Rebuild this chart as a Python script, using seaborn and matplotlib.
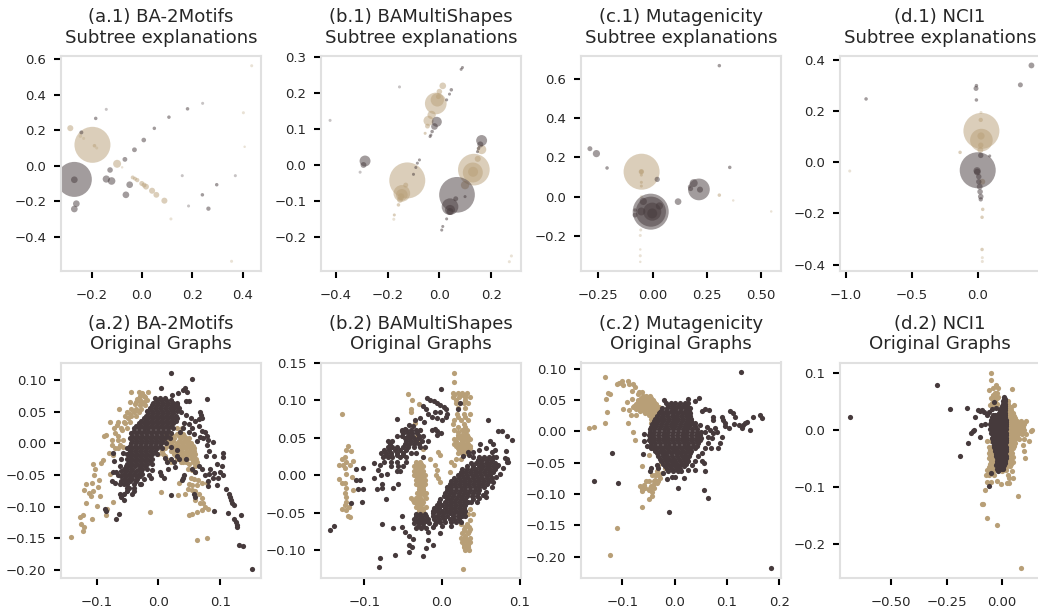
import numpy as np
import matplotlib
matplotlib.use("Agg")
import matplotlib.pyplot as plt
import seaborn as sns

# ====================== 1. top row: x, y, bubble size ======================
tan_a1 = [(-.197,.118,672),(-.285,.212,19),(-.099,.011,33),(.089,-.197,19),(.057,-.164,11),(.04,-.141,19),
          (.016,-.118,11),(-.001,-.1,8),(-.019,-.081,6),(-.037,-.066,5),(-.028,-.073,5),(.008,-.109,8),(-.189,.113,4)]
tan_a1_faint = [(-.18,.1,3),(-.245,.167,4),(-.232,.154,3),(.115,-.3,3),(.436,.564,3),(.403,.299,3),(.408,.107,2),
                (.356,-.539,3),(-.079,-.009,2)]
dark_a1 = [(-.269,-.077,635),(-.269,-.079,23),(-.261,-.214,23),(-.269,-.244,23),(-.142,-.075,27),(-.121,-.086,30),
           (-.127,-.024,16),(-.049,-.107,23),(-.064,-.164,23),(-.068,.036,12),(-.03,.09,12),(.007,.145,7),(.049,.211,4),
           (.107,.274,4),(.181,.321,4),(-.184,.267,4),(-.241,.188,5),(.297,-.107,4),(.24,-.164,4),(.264,-.242,6)]
dark_a1_faint = [(.241,.352,3),(-.142,.318,3),(.16,-.056,3),(.371,-.056,3),(.185,-.227,3)]

tan_b1 = [(-.124,-.043,672),(-.145,-.079,144),(-.145,-.083,70),(-.148,-.088,23),(-.152,-.097,11),(-.158,-.111,4),
          (-.13,-.056,8),(-.174,-.139,3),(.133,-.013,520),(.129,-.021,207),(.13,-.019,52),(.148,.017,19),(.099,-.056,36),
          (.163,.043,45),(-.014,.171,244),(-.008,.181,92),(.013,.22,23),(0,.204,16),(-.004,.19,12),(-.03,.139,36),
          (-.042,.123,52),(-.046,.108,12),(-.055,.088,3)]
tan_b1_faint = [(-.176,-.151,3),(.27,-.269,3),(.278,-.253,3)]
dark_b1 = [(.068,-.083,660),(.041,-.116,144),(.041,-.125,52),(.041,-.129,23),(.063,-.094,8),(.028,-.15,3),(.013,-.171,3),
           (.009,-.181,3),(.099,-.088,3),(.163,.068,62),(.158,.057,19),(.151,.046,4),(.147,.037,3),(-.287,.011,62),
           (-.293,0,11),(-.01,.12,52),(-.019,.107,23),(-.028,.093,4),(-.033,.083,3),(-.036,.079,3),(-.077,.014,3),
           (-.085,.005,3),(-.091,-.007,3),(-.1,-.026,3),(.046,.209,4),(.039,.197,3),(.028,.181,3),(.089,.271,3),(.084,.266,3)]
dark_b1_faint = [(-.306,-.02,3),(-.154,.217,3),(-.422,.124,3)]

tan_c1 = [(-.051,.127,672),(-.052,.127,15),(-.052,.127,6),(-.052,.073,3),(-.052,.054,3),(-.052,.11,3),(.307,.008,4)]
tan_c1_faint = [(-.052,0,3),(-.055,-.169,3),(-.057,-.197,3),(-.057,-.268,2),(-.057,-.3,3),(-.057,-.331,2),(.371,-.019,2),
                (.546,-.075,2)]
dark_c1 = [(-.009,-.076,672),(-.008,-.076,470),(-.043,-.024,27),(-.052,-.075,33),(-.002,-.076,170),(-.002,-.085,52),
           (.031,-.047,27),(-.081,-.093,8),(-.081,-.068,4),(.117,-.025,23),(.213,.037,245),(.189,.069,33),(.218,.036,19),
           (.175,.041,8),(.021,.088,9),(-.259,.219,27),(-.289,.244,8),(-.21,.146,4),(.307,.666,4),(.355,.149,4)]
dark_c1_faint = [(.167,.054,4)]

tan_d1 = [(.028,.123,672),(.028,.087,265),(.025,.103,27),(.023,.067,15),(.02,.048,11),(.023,.166,6),(-.134,.039,4),
          (.035,-.076,11),(.038,-.184,4),(.033,-.215,4),(.033,-.341,4)]
tan_d1_faint = [(.025,.195,3),(.035,-.373,3),(.035,-.388,3),(-.972,-.034,3)]
dark_d1 = [(0,-.031,672),(-.005,-.033,27),(-.003,-.038,23),(.008,-.056,15),(.008,-.076,15),(.015,-.095,11),(.018,-.115,10),
           (.023,-.134,10),(.023,-.145,6),(.023,.027,15),(.091,.025,3),(-.013,.289,8),(-.01,.3,4),(-.01,.244,4),(.324,.303,8),
           (.408,.379,11),(-.848,.248,4)]
dark_d1_faint = []

# ====================== 2. bottom row: loose points (x, y) + dense rows (y, [x]) ======================
tan_a2 = [(-.142,-.148),(-.127,-.116),(-.122,-.114),(-.125,-.128),(-.121,-.132),(-.122,-.138),(-.108,-.119),(-.117,-.094),
          (-.099,-.099),(-.085,-.113),(-.083,-.104),(-.073,-.093),(-.12,-.074),(-.117,-.065),(-.108,-.063),(-.113,-.079),
          (-.109,-.083),(-.105,-.076),(-.098,-.069),(-.096,-.058),(-.104,-.05),(-.106,-.033),(-.102,-.04),(-.093,-.031),
          (-.089,-.026),(-.094,-.083),(-.078,-.049),(-.08,-.015),(-.074,-.018),(-.075,-.003),(-.07,-.008),(-.065,-.007),
          (-.088,.011),(-.084,.014),(-.078,.034),(-.063,.054),(-.067,.029),(-.07,.016),(-.065,.012),(-.059,.021),(-.054,.032),
          (-.051,.05),(-.046,.047),(-.049,.04),(-.04,.05),(-.046,.065),(-.044,.082),(-.032,.081),(-.027,.079),(-.016,.081),
          (-.035,.071),(-.03,.069),(-.022,.074),(-.038,.063),(-.03,.061),(-.019,.069),(-.022,.061),(-.032,.05),(-.062,-.003),
          (-.057,-.005),(.044,-.03),(.05,-.032),(.056,-.03),(.06,-.035),(.048,-.04),(.055,-.042),(.06,-.045),(.052,-.055),
          (.058,-.057),(.064,-.058),(.05,-.064),(.055,-.066),(.062,-.066),(.07,-.062),(.078,-.062),(.048,-.072),(.054,-.074),
          (.06,-.076),(.066,-.08),(.07,-.086),(.072,-.095),(.076,-.1),(.07,-.105),(.068,-.094),(.08,-.104),(.06,-.09),
          (.062,-.109),(.055,-.112),(.05,-.114),(.032,-.082),(.043,-.08),(.034,-.062),(.005,-.077),(-.014,-.109),(.062,-.153),
          (.078,-.15),(.02,-.03)]
tan_a2_rows = [(.015,[.012,.02,.03,.04]),(.008,[.008,.018,.026,.036,.044,.05]),(0,[.005,.012,.02,.03,.038,.046,.052]),
               (-.008,[.01,.022,.03,.038,.045,.052,.058]),(-.016,[0,.008,.025,.032,.04,.048,.055,.06]),
               (-.024,[.012,.03,.038,.046,.054,.061]),(.024,[.03,.038]),
               (.012,[.016,.024,.034,.042]),(.004,[.01,.016,.024,.034,.042,.048]),(-.004,[.014,.026,.034,.042,.05,.056]),
               (-.012,[.006,.02,.028,.036,.044,.05,.057]),(-.02,[.01,.028,.036,.044,.052,.058]),(-.03,[.036,.04,.062]),
               (.075,[-.03,-.024]),(.066,[-.036,-.028,-.024]),(.055,[-.044,-.036,-.028]),(.044,[-.054,-.044,-.036]),
               (.034,[-.066,-.056,-.046]),(.025,[-.072,-.06,-.05]),(.006,[-.075,-.066,-.058])]
dark_a2 = [(.021,.111),(.055,.102),(.005,.088),(.04,.085),(.043,.088),(.047,.082),(.032,.08),(.022,.077),(.079,.07),(.045,.067),
           (.05,.067),(.03,.06),(.037,.05),(.045,.045),(.052,.04),(.066,.039),(.068,.05),(.069,.045),(.07,.04),(.06,.035),(.05,.03),
           (.055,.025),(.065,.028),(.07,.02),(.075,.018),(.058,.015),(.068,.01),(.072,.008),(.078,.012),(.042,.033),(.04,.025),
           (.05,.018),(.035,.018),(.062,.003),(.08,.005),(.078,-.003),(.088,.002),(.082,-.012),(.077,-.02),(.09,-.02),(.095,-.033),
           (.105,-.015),(.105,-.022),(.103,-.035),(.083,-.04),(.07,-.04),(.065,-.035),(.06,-.045),(.055,-.04),(.075,-.05),(.082,-.048),
           (.09,-.047),(.1,-.045),(.105,-.05),(.096,-.055),(.08,-.06),(.08,-.068),(.095,-.066),(.088,-.055),(.11,-.072),(.115,-.08),
           (.116,-.085),(.118,-.09),(.119,-.095),(.122,-.097),(.113,-.11),(.123,-.119),(.126,-.124),(.127,-.129),(.127,-.133),
           (.134,-.113),(.13,-.16),(.137,-.162),(.152,-.198),(.09,-.107),(.04,-.055),(.042,-.05),(.038,-.058),(.02,-.082),(.058,-.08),
           (.06,-.085),(-.01,-.042),(-.015,-.05),(-.012,-.055),(.002,-.045),(.005,-.05),(.009,-.055),(.015,-.04),(.014,-.03),
           (.025,-.03),(.027,-.038),(.03,-.02),(.02,-.025),(.01,-.023),(.034,-.025),(-.068,-.12),(-.063,-.112),(-.087,-.104),
           (-.085,-.107),(-.073,-.015),(-.072,-.028),(-.073,-.045),(-.075,-.06),(-.068,-.045),(-.07,-.062),(-.065,-.05),(-.062,-.035),
           (-.06,-.025),(-.058,-.015),(-.062,-.065),(-.062,-.08),(-.06,-.085),(-.055,-.09),(-.055,-.08),(-.05,-.075),(-.048,-.07),
           (-.042,-.08),(-.04,-.076),(-.028,-.065),(.02,-.005),(.03,-.01),(.045,-.025)]
dark_a2_rows = [(.072,[-.005,.003,.01]),(.064,[-.008,0,.008,.016,.024,.03]),(.056,[-.014,-.006,.002,.01,.018,.026,.034]),
                (.048,[-.016,-.008,0,.008,.016,.024]),(.04,[-.024,-.016,-.008,0,.008,.016,.024,.03]),
                (.032,[-.032,-.024,-.016,-.008,0,.008,.016,.024]),(.024,[-.04,-.032,-.024,-.016,-.008,0,.008,.016,.024]),
                (.016,[-.044,-.036,-.028,-.02,-.012,-.004,.004,.012,.02]),(.008,[-.046,-.038,-.03,-.022,-.014,-.006,.002,.01,.018]),
                (0,[-.044,-.036,-.028,-.02,-.012,-.004,.004,.012]),(-.008,[-.05,-.042,-.034,-.026,-.018,-.01,-.002,.006]),
                (-.016,[-.05,-.042,-.034,-.026,-.018,-.01,-.002]),(-.024,[-.05,-.042,-.034,-.026,-.018,-.01]),
                (-.032,[-.05,-.042,-.034,-.026,-.018,-.01]),(-.04,[-.056,-.05,-.042,-.032,-.026,-.018]),
                (-.048,[-.056,-.048,-.04,-.032,-.026]),(-.056,[-.056,-.048,-.042,-.034,-.024]),(-.064,[-.056,-.05,-.04,-.03]),
                (.068,[-.004,.004,.012,.02]),(.06,[-.01,-.002,.006,.014,.022,.03]),(.052,[-.018,-.01,-.002,.006,.014,.022,.03]),
                (.044,[-.02,-.012,-.004,.004,.012,.02,.028]),(.036,[-.028,-.02,-.012,-.004,.004,.012,.02,.028]),
                (.028,[-.036,-.028,-.02,-.012,-.004,.004,.012,.02]),(.02,[-.04,-.032,-.024,-.016,-.008,0,.008,.016]),
                (.012,[-.042,-.034,-.026,-.018,-.01,-.002,.006,.014]),(.004,[-.042,-.034,-.026,-.018,-.01,-.002,.006]),
                (-.004,[-.046,-.038,-.03,-.022,-.014,-.006,.002]),(-.012,[-.046,-.038,-.03,-.022,-.014,-.006]),
                (-.02,[-.046,-.038,-.03,-.022,-.014]),(-.028,[-.046,-.038,-.03,-.022,-.014]),(-.036,[-.052,-.046,-.038,-.03,-.022]),
                (-.044,[-.06,-.052,-.044,-.036,-.028]),(-.052,[-.06,-.052,-.044,-.036,-.03]),(-.06,[-.06,-.052,-.046,-.036]),(-.07,[-.05,-.04])]

tan_b2 = [(-.128,.082),(-.121,.039),(-.123,.033),(-.117,.032),(-.125,.024),(-.128,.021),(-.132,.014),(-.127,.014),(-.123,.018),
          (-.115,.019),(-.118,.013),(-.125,.009),(-.123,.002),(-.116,-.002),(-.132,-.005),(-.128,-.011),(-.125,-.011),(-.123,-.017),
          (-.115,-.02),(-.125,-.024),(-.123,-.029),(-.123,-.036),(-.125,-.04),(-.128,-.045),(-.124,-.047),(-.12,-.042),(-.121,-.054),
          (-.118,-.056),(-.044,.108),(-.039,.1),(-.03,.095),(-.04,.088),(-.04,.084),(-.035,.069),(-.028,.06),(-.015,.021),(-.005,.031),
          (-.003,.027),(-.009,.013),(-.007,.007),(-.008,0),(-.005,-.004),(-.003,-.009),(.015,.137),(.016,.124),(.027,-.125),
          (.012,.018),(.015,.013),(.01,.004),(-.032,.052),(-.03,.044),(-.024,.035)]
tan_b2_rows = [(.11,[.014,.02,.026,.032]),(.104,[.014,.022,.03,.036]),(.097,[.018,.028,.034]),(.09,[.02,.03]),(.082,[.019,.028,.036]),
               (.074,[.016,.024,.034]),(.068,[.014,.028]),(.06,[.016,.026,.032]),(.054,[.02,.026,.032]),(.048,[.016,.024,.03,.036]),
               (.042,[.016,.022,.028,.034]),(.036,[.02,.026,.032,.036]),(.03,[.02,.026,.03]),(.022,[.018,.024]),
               (.018,[-.034,-.028]),(.012,[-.036,-.03,-.024]),(.006,[-.036,-.03,-.024]),(0,[-.036,-.03,-.022]),(-.006,[-.034,-.028,-.022]),
               (-.012,[-.034,-.028,-.022]),(-.018,[-.03,-.024]),(-.024,[-.032,-.026,-.02]),(-.03,[-.04,-.034,-.028,-.02]),
               (-.036,[-.036,-.03,-.024]),(-.042,[-.034,-.028,-.02]),(-.048,[-.03,-.024]),
               (-.045,[.028,.036]),(-.052,[.034,.04]),(-.06,[.036]),(-.066,[.024,.032]),(-.072,[.028,.036]),(-.078,[.026,.034]),
               (-.084,[.024,.03,.036]),(-.09,[.026,.032,.036]),(-.096,[.028,.034]),(-.1,[.03,.035]),
               (.015,[-.033,-.027]),(.009,[-.033,-.027]),(.003,[-.033,-.027]),(-.003,[-.032,-.026]),(-.009,[-.031,-.025]),(-.015,[-.03,-.024]),
               (-.021,[-.03,-.024]),(-.027,[-.03,-.023]),(-.033,[-.037,-.032,-.026]),(-.039,[-.032,-.026]),(-.045,[-.03,-.024]),
               (.107,[.016,.024,.03]),(.1,[.018,.03]),(.078,[.02,.03]),(.064,[.02,.03]),(.057,[.02,.03]),(.051,[.02,.028,.034]),
               (.045,[.018,.026,.032]),(.039,[.018,.024,.03,.036]),(.033,[.022,.028,.034]),(-.075,[.028,.035]),(-.087,[.028,.033]),
               (-.093,[.028,.034]),(-.07,[.03,.035]),(-.082,[.03])]
dark_b2 = [(-.11,.008),(-.101,.009),(-.111,-.007),(-.106,-.007),(-.108,-.019),(-.101,-.019),(-.117,-.037),(-.103,-.036),(-.144,-.073),
           (-.139,-.068),(-.087,.016),(-.08,.013),(-.082,.007),(-.087,-.004),(-.078,0),(-.071,.001),(-.083,-.018),(-.077,-.017),
           (-.077,-.012),(-.063,-.017),(-.057,-.012),(-.072,-.032),(-.077,-.065),(-.063,-.071),(-.08,-.111),(-.081,-.123),(-.06,-.107),
           (-.042,-.103),(-.052,-.054),(-.052,-.07),(-.048,-.076),(-.042,-.081),(-.037,-.086),(-.043,-.093),(-.039,-.096),(-.024,-.108),
           (-.021,-.097),(-.011,-.093),(-.018,-.087),(-.018,-.076),(-.003,-.078),(-.011,-.069),(-.009,-.065),(-.019,.103),(-.015,.101),
           (-.01,.099),(-.006,.097),(-.002,.094),(.002,.091),(.005,.088),(.006,.082),(.005,.077),(-.001,.115),(-.024,.093),(-.02,.089),
           (-.018,.082),(-.009,.084),(-.003,.084),(-.013,.078),(-.007,.076),(0,.073),(-.028,.076),(-.035,.073),(-.058,.075),(-.023,.071),
           (-.009,.062),(-.013,.06),(-.007,.059),(-.001,.056),(-.006,.053),(.023,.096),(.021,.089),(.059,.074),(-.043,.067),(-.037,.065),
           (-.052,.059),(-.048,.061),(.072,.059),(.077,.059),(.084,.052),(.09,.047),(.062,.045),(.066,.042),(.049,.041),(.068,.033),
           (.057,.036),(.064,.031),(.082,.032),(.081,.023),(.085,.018),(.083,.021),(.084,.017),(.072,.013),(.078,.009),(.075,.002),
           (.07,-.002),(.066,-.009),(.064,-.016),(.057,-.022),(.053,-.027),(.057,-.029),(.047,-.031),(.045,-.036),(.037,-.036),(.034,.031),
           (.04,.031),(.047,.033),(.027,.026),(.035,.027)]
dark_b2_rows = [(.06,[-.052,-.046,-.04,-.034,-.028]),(.052,[-.058,-.052,-.044,-.038,-.03,-.024]),(.045,[-.07,-.064,-.046,-.04,-.034,-.026,-.018]),
                (.038,[-.07,-.064,-.058,-.05,-.044,-.036,-.028,-.022]),(.03,[-.078,-.072,-.066,-.058,-.05,-.04,-.034]),
                (.024,[-.076,-.07,-.064,-.054,-.046,-.024]),(.018,[-.075,-.066,-.058,-.046]),(.012,[-.066,-.056,-.05]),(.006,[-.058,-.054]),
                (.024,[.04,.047,.054,.06,.066,.07]),(.016,[.037,.044,.05,.056,.062,.068]),(.008,[.026,.032,.038,.044,.05,.056,.062,.068]),
                (0,[.02,.026,.032,.038,.044,.05,.056,.062]),(-.008,[.012,.018,.024,.03,.036,.042,.048,.054,.06]),
                (-.016,[.006,.012,.018,.024,.03,.036,.042,.048,.054]),(-.024,[.004,.01,.016,.022,.028,.034,.04,.046]),
                (-.032,[-.002,.006,.012,.018,.024,.03,.04]),(-.04,[-.006,0,.006,.012,.018,.024,.03]),
                (-.048,[-.012,-.006,0,.006,.012,.018,.024,.03]),(-.055,[-.012,-.006,0,.006,.014,.02,.026,.03]),
                (-.062,[-.008,-.002,.004,.012,.018,.024]),(-.068,[0,.012]),
                (-.052,[-.034,-.028,-.022]),(-.058,[-.036,-.03,-.024,-.018]),(-.064,[-.036,-.03,-.024,-.017]),(-.071,[-.034,-.027,-.02]),
                (.02,[.046,.052,.058,.064]),(.012,[.032,.04,.047,.053,.059,.065,.071]),(.004,[.024,.03,.036,.042,.048,.054,.06,.066]),
                (-.004,[.016,.022,.028,.034,.04,.046,.052,.058,.064]),(-.012,[.01,.016,.022,.028,.034,.04,.046,.052,.058]),
                (-.02,[.006,.012,.018,.024,.03,.036,.042,.048]),(-.028,[.002,.008,.014,.02,.026,.032,.038,.045]),
                (-.036,[-.004,.004,.01,.016,.022,.028,.034]),(-.044,[-.01,-.004,.004,.01,.016,.022,.028]),
                (-.051,[-.012,-.004,.002,.01,.016,.022,.028]),(-.058,[-.01,-.004,.002,.01,.016,.022]),
                (.056,[-.05,-.044,-.038,-.032]),(.049,[-.048,-.042,-.036,-.03]),(.041,[-.067,-.048,-.042,-.036,-.03]),
                (.034,[-.074,-.068,-.06,-.054,-.046]),(.027,[-.072,-.066,-.058,-.05]),(-.055,[-.033,-.027,-.021]),
                (-.061,[-.033,-.027,-.02]),(-.068,[-.031,-.024])]

tan_c2 = [(-.133,.086),(-.127,.061),(-.123,.059),(-.132,.052),(-.129,.03),(-.133,.014),(-.163,.006),(-.154,.007),(-.11,-.155),(-.124,-.198),
          (-.062,-.121),(-.049,-.108),(-.043,-.103),(-.111,.075),(-.106,.077),(-.101,.08),(-.098,.074),(-.09,.08),(-.087,.075),(-.079,.075),
          (-.082,.064),(-.076,.07),(-.069,.063),(-.062,.062),(-.071,.059),(-.092,.046),(-.082,.051),(-.098,.035),(-.087,.034),(-.083,.026),
          (-.074,.026),(-.09,.014),(-.08,-.001),(-.075,-.014),(-.062,-.056),(-.066,-.088),(-.063,-.092),(-.062,-.096),(-.055,-.08),(-.05,-.094),
          (-.044,-.097),(-.041,-.086),(-.038,-.078),(-.035,-.07),(-.028,-.075),(-.025,-.067),(-.034,-.064),(-.018,-.059),(-.031,-.054),(-.049,-.038),
          (-.044,.018),(-.045,.013),(-.058,-.086),(-.046,-.088),(-.033,-.083)]
tan_c2_rows = [(.056,[-.06,-.054,-.048]),(.05,[-.07,-.062,-.055,-.048,-.042]),(.044,[-.074,-.066,-.058,-.05,-.043,-.036]),
               (.038,[-.08,-.07,-.062,-.054,-.046,-.038,-.03]),(.032,[-.066,-.058,-.05,-.042,-.034,-.028]),(.026,[-.05,-.042,-.036]),
               (.053,[-.064,-.058,-.052,-.045]),(.047,[-.07,-.062,-.054,-.046,-.04]),(.041,[-.078,-.07,-.062,-.054,-.046,-.038]),
               (.035,[-.074,-.066,-.058,-.05,-.042,-.034]),(.029,[-.056,-.048,-.04,-.032]),(.02,[-.046,-.04]),(.008,[-.043]),
               (-.07,[-.044,-.038,-.03]),(-.08,[-.05,-.04,-.032]),(-.09,[-.056,-.048,-.04])]
dark_c2 = [(.052,.032),(.057,.035),(.066,.034),(.047,.053),(.039,.048),(.026,.051),(-.021,.05),(.105,.032),(.112,.029),(.115,.023),(.09,.022),
           (.093,.018),(.096,.013),(.096,.009),(.074,.023),(.074,.018),(.114,.011),(.122,.01),(.128,.006),(.103,.005),(.134,.014),(.138,.015),
           (.131,.01),(.149,.022),(.163,.026),(.167,.021),(.143,.002),(.126,.094),(.09,-.009),(.087,-.019),(.083,-.027),(.069,-.027),(.058,-.001),
           (.068,.002),(.077,.005),(.08,-.001),(.074,-.003),(.064,-.009),(.071,-.011),(.061,.007),(.048,.01),(.039,.013),(.064,-.019),(.058,-.027),
           (.052,-.035),(.045,-.04),(.039,-.048),(.052,-.048),(.055,-.051),(.039,-.062),(.026,-.062),(.033,-.054),(.058,-.063),(.018,-.075),
           (-.015,-.076),(-.006,-.073),(.001,-.073),(.007,-.091),(.055,-.093),(.064,-.106),(-.011,-.129),(-.154,-.079),(-.108,-.082),(-.119,-.034),
           (-.059,-.004),(-.059,-.016),(-.061,-.036),(-.052,-.024),(-.045,-.027),(-.047,-.064),(-.045,-.059),(-.034,-.054),(-.031,-.059),(-.022,-.067),
           (.184,-.218),(-.045,.007),(-.034,.018),(-.028,.03)]
dark_c2_rows = [(.045,[-.016,-.008,0,.01,.02,.026]),(.037,[-.024,-.015,-.006,.003,.012,.021,.029]),(.029,[-.03,-.021,-.012,-.003,.006,.015,.024,.03]),
                (.02,[-.038,-.029,-.02,-.011,-.002,.007,.016,.025,.031]),(.012,[-.044,-.035,-.026,-.017,-.008,.001,.01,.019,.028,.035]),
                (.003,[-.048,-.039,-.03,-.021,-.012,-.003,.006,.015,.024,.033,.042]),(-.006,[-.05,-.041,-.032,-.023,-.014,-.005,.004,.013,.022,.031,.04,.049]),
                (-.014,[-.05,-.041,-.032,-.023,-.014,-.005,.004,.013,.022,.031,.04,.048]),(-.023,[-.046,-.037,-.028,-.019,-.01,-.001,.008,.017,.026,.035,.043]),
                (-.031,[-.038,-.029,-.02,-.011,-.002,.007,.016,.025,.032]),(-.04,[-.032,-.023,-.014,-.005,.004,.013,.022,.027]),
                (-.048,[-.026,-.017,-.008,.001,.01,.019,.026]),(-.056,[-.018,-.009,0,.009,.018]),(-.064,[-.012,-.003,.006,.012]),
                (.041,[-.012,-.003,.006,.016,.024]),(.033,[-.026,-.017,-.008,.001,.01,.019,.028]),(.025,[-.033,-.024,-.015,-.006,.003,.012,.021,.03]),
                (.016,[-.04,-.031,-.022,-.013,-.004,.005,.014,.023,.032]),(.008,[-.044,-.035,-.026,-.017,-.008,.001,.01,.019,.028,.038]),
                (-.001,[-.048,-.039,-.03,-.021,-.012,-.003,.006,.015,.024,.033,.042,.05]),(-.01,[-.048,-.039,-.03,-.021,-.012,-.003,.006,.015,.024,.033,.042,.05]),
                (-.018,[-.046,-.037,-.028,-.019,-.01,-.001,.008,.017,.026,.035,.044]),(-.027,[-.042,-.033,-.024,-.015,-.006,.003,.012,.021,.03,.038]),
                (-.035,[-.034,-.025,-.016,-.007,.002,.011,.02,.029]),(-.044,[-.028,-.019,-.01,-.001,.008,.017,.024]),
                (-.052,[-.022,-.013,-.004,.005,.014,.022]),(-.06,[-.014,-.005,.004,.01])]

tan_d2 = [(-.048,.1),(-.05,.087),(.048,.071),(.075,-.117),(-.09,-.13),(-.083,-.13),(-.065,-.155),(-.021,-.167),(.086,-.243),(-.078,-.106),
          (-.068,-.091),(-.048,-.091),(-.021,-.089),(-.005,-.095),(.023,-.094),(.033,-.094),(.033,-.084),(.053,-.084),(.048,-.073),(.03,-.079),
          (.131,-.002),(.121,-.019),(.11,.015),(.087,.015),(.098,-.026),(.1,-.038),(.103,-.049),(.056,.044),(-.06,.07),(-.038,.073),(-.027,.079),
          (-.015,.073),(-.023,.064),(-.038,.061),(-.015,.058),(-.045,.047),(-.053,.044),(.135,0),(.002,-.072),(.02,-.07),(-.03,.055),(.03,.05)]
tan_d2_rows = [(.04,[.026,.04]),(.03,[.024,.036,.05]),(.02,[.024,.036,.05,.062]),(.01,[.024,.036,.05,.062,.08,.092,.1]),(0,[.024,.036,.05,.062,.075,.09,.1]),
               (-.008,[.024,.036,.05,.062,.075,.09,.11]),(-.016,[.024,.036,.05,.06,.08,.1]),(-.024,[.024,.036,.05,.062]),(-.032,[.024,.036,.05]),
               (-.04,[.024,.036,.048]),(-.048,[.024,.036,.05]),(-.056,[.024,.036,.05]),(-.064,[.024,.036]),
               (-.02,[-.065,-.05]),(-.03,[-.06,-.045]),(-.04,[-.06,-.045,-.035]),(-.05,[-.06,-.045,-.03,-.02]),(-.06,[-.055,-.04,-.03,-.015]),
               (-.07,[-.065,-.05,-.035,-.01]),(-.08,[-.07,-.06,-.035]),(.055,[-.05,-.02]),(.045,[-.02,.03]),
               (.035,[.03,.044]),(.025,[.03,.042,.055]),(.015,[.03,.042,.056,.07]),(.005,[.03,.042,.056,.07,.085,.095]),(-.004,[.03,.042,.056,.07,.085]),
               (-.012,[.03,.042,.056,.07]),(-.02,[.03,.042,.056]),(-.028,[.03,.042,.056]),(-.036,[.03,.042]),(-.044,[.03,.042]),(-.052,[.03,.042]),
               (-.06,[.03,.044]),(-.035,[-.052]),(-.045,[-.052,-.04]),(-.055,[-.05,-.035]),(-.065,[-.058,-.042,-.03]),(-.075,[-.058,-.045]),
               (.05,[-.03]),(.065,[-.03]),(.04,[-.035,-.028])]
dark_d2 = [(-.688,.023),(-.294,.078),(-.232,.037),(-.158,.039),(-.122,.023),(-.189,-.046),(-.152,-.023),(-.14,-.006),(-.131,-.003),(-.124,-.001),
           (-.097,-.013),(-.095,.009),(-.075,.01),(-.057,-.099),(-.05,-.075),(-.033,.049),(-.106,.035),(-.09,.035),(-.08,.031),(-.068,.026),
           (-.057,.032),(-.045,.037),(-.027,.038),(-.015,-.073),(-.098,.033)]
dark_d2_rows = [(.058,[.012]),(.05,[.006,.014]),(.042,[.002,.012,.016]),(.034,[-.008,.002,.012,.016]),(.026,[-.04,-.03,-.02,-.01,0,.01,.016]),
                (.018,[-.05,-.04,-.03,-.02,-.01,0,.01,.018]),(.01,[-.055,-.045,-.035,-.025,-.015,-.005,.005,.018]),(.002,[-.055,-.045,-.035,-.025,-.015,-.005,.005,.018]),
                (-.006,[-.05,-.04,-.03,-.02,-.01,0,.01,.018]),(-.014,[-.045,-.035,-.025,-.015,-.005,.005,.018]),(-.022,[-.04,-.03,-.02,-.01,0,.01,.018]),
                (-.03,[-.035,-.025,-.015,-.005,.005,.018]),(-.038,[-.03,-.02,-.01,0,.01,.018]),(-.046,[-.025,-.015,-.005,.005,.018]),
                (-.054,[-.022,-.012,-.002,.008,.016]),(-.062,[-.025,-.015,-.005,.005,.012]),(-.068,[-.02,-.01,0,.006]),
                (.054,[.01,.016]),(.046,[.004,.012,.016]),(.038,[-.004,.006,.014]),(.03,[-.012,-.004,.006,.014]),(.022,[-.045,-.035,-.025,-.015,-.005,.005,.015]),
                (.014,[-.05,-.04,-.03,-.02,-.01,0,.01,.018]),(.006,[-.05,-.04,-.03,-.02,-.01,0,.01,.018]),(-.002,[-.045,-.035,-.025,-.015,-.005,.005,.015]),
                (-.01,[-.04,-.03,-.02,-.01,0,.01,.018]),(-.018,[-.04,-.03,-.02,-.01,0,.01,.018]),(-.026,[-.035,-.025,-.015,-.005,.005,.015]),
                (-.034,[-.03,-.02,-.01,0,.01,.018]),(-.042,[-.025,-.015,-.005,.005,.015]),(-.05,[-.02,-.01,0,.01,.018]),(-.058,[-.02,-.01,0,.01,.015]),
                (-.065,[-.015,-.005,.005])]

titles_top = ["(a.1) BA-2Motifs\nSubtree explanations", "(b.1) BAMultiShapes\nSubtree explanations",
              "(c.1) Mutagenicity\nSubtree explanations", "(d.1) NCI1\nSubtree explanations"]
titles_bottom = ["(a.2) BA-2Motifs\nOriginal Graphs", "(b.2) BAMultiShapes\nOriginal Graphs",
                 "(c.2) Mutagenicity\nOriginal Graphs", "(d.2) NCI1\nOriginal Graphs"]

TAN = "#b89f77"
DARK = "#463a3c"
W, H = 1038, 608


def expand(loose, rows):
    return np.array(list(loose) + [(x, y) for y, xs in rows for x in xs])


def bubbles(ax, pts, color, alpha):
    if not pts:
        return
    p = np.array(pts, dtype=float)
    # the tiniest marks come out too small otherwise
    s = np.where(p[:, 2] < 12, p[:, 2] * 1.6, p[:, 2])
    sns.scatterplot(x=p[:, 0], y=p[:, 1], s=s, color=color, alpha=alpha, linewidth=0, legend=False, ax=ax)


def make_axes(left, right, top, bottom, title, xlim, ylim, xticks, yticks):
    ax = fig.add_axes([left / W, 1 - bottom / H, (right - left) / W, (bottom - top) / H])
    ax.set_xlim(*xlim)
    ax.set_ylim(*ylim)
    ax.set_xticks(xticks)
    ax.set_yticks(yticks)
    ax.set_title(title, fontsize=13.1, pad=9.5)
    ax.tick_params(length=5, width=1.5, labelsize=9.5, color="black")
    ax.tick_params(axis="x", pad=8)
    ax.tick_params(axis="y", pad=5.5)
    for sp in ax.spines.values():
        sp.set_color("#e0e0e0")
        sp.set_linewidth(1.5)
    return ax


sns.set_theme(style="ticks")
plt.rcParams['font.family'] = ['DejaVu Sans']
fig = plt.figure(figsize=(W / 100, H / 100), dpi=100)

cols = [(61, 261), (321, 521), (581, 781), (840, 1040)]
top_limits = [((-.322, .473), (-.592, .619), [-.2, 0, .2, .4], [-.4, -.2, 0, .2, .4, .6]),
              ((-.457, .315), (-.294, .303), [-.4, -.2, 0, .2], [-.2, -.1, 0, .1, .2, .3]),
              ((-.33, .591), (-.376, .715), [-.25, 0, .25, .5], [-.2, 0, .2, .4, .6]),
              ((-1.046, .473), (-.424, .416), [-1, -.5, 0], [-.4, -.2, 0, .2, .4])]
bottom_limits = [((-.1575, .166), (-.213, .128), [-.1, 0, .1], [-.2, -.15, -.1, -.05, 0, .05, .1]),
                 ((-.1555, .1015), (-.1375, .1505), [-.1, 0, .1], [-.1, -.05, 0, .05, .1, .15]),
                 ((-.179, .203), (-.234, .1097), [-.1, 0, .1, .2], [-.2, -.15, -.1, -.05, 0, .05, .1]),
                 ((-.732, .173), (-.26, .118), [-.5, -.25, 0], [-.2, -.1, 0, .1])]
top_series = [(tan_a1, tan_a1_faint, dark_a1, dark_a1_faint), (tan_b1, tan_b1_faint, dark_b1, dark_b1_faint),
              (tan_c1, tan_c1_faint, dark_c1, dark_c1_faint), (tan_d1, tan_d1_faint, dark_d1, dark_d1_faint)]
bottom_series = [(expand(tan_a2, tan_a2_rows), expand(dark_a2, dark_a2_rows)), (expand(tan_b2, tan_b2_rows), expand(dark_b2, dark_b2_rows)),
                 (expand(tan_c2, tan_c2_rows), expand(dark_c2, dark_c2_rows)), (expand(tan_d2, tan_d2_rows), expand(dark_d2, dark_d2_rows))]

for i in range(4):
    left, right = cols[i]
    xlim, ylim, xt, yt = top_limits[i]
    ax = make_axes(left, right, 56, 270.7, titles_top[i], xlim, ylim, xt, yt)
    tan, tan_f, dark, dark_f = top_series[i]
    bubbles(ax, tan_f, TAN, 0.3)
    bubbles(ax, dark_f, DARK, 0.3)
    bubbles(ax, tan, TAN, 0.5)
    bubbles(ax, dark, DARK, 0.5)

    xlim, ylim, xt, yt = bottom_limits[i]
    ax = make_axes(left, right, 362.5, 578, titles_bottom[i], xlim, ylim, xt, yt)
    tan, dark = bottom_series[i]
    sns.scatterplot(x=tan[:, 0], y=tan[:, 1], s=14, color=TAN, linewidth=0, legend=False, ax=ax)
    sns.scatterplot(x=dark[:, 0], y=dark[:, 1], s=14, color=DARK, linewidth=0, legend=False, ax=ax)

fig.savefig("out.png", dpi=100)
